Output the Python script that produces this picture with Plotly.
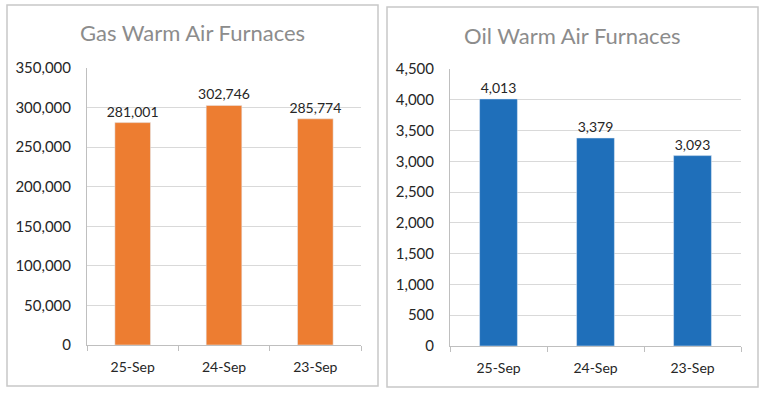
import plotly.graph_objects as go

categories = ["25-Sep", "24-Sep", "23-Sep"]
gas_values = [281001, 302746, 285774]
oil_values = [4013, 3379, 3093]
gas_title = "Gas Warm Air Furnaces"
oil_title = "Oil Warm Air Furnaces"

W, H = 765, 399
FONT = "Lato, Open Sans, sans-serif"
TXT = "#262626"

fig = go.Figure()

fig.add_trace(go.Bar(
    x=categories, y=gas_values, marker_color="#ED7D31",
    text=[f"{v:,}" for v in gas_values], textposition="outside", constraintext="none",
    textfont=dict(size=14, color=TXT, family=FONT), cliponaxis=False,
    xaxis="x", yaxis="y", width=0.39, hoverinfo="skip"))
fig.add_trace(go.Bar(
    x=categories, y=oil_values, marker_color="#1F6FBA",
    text=[f"{v:,}" for v in oil_values], textposition="outside", constraintext="none",
    textfont=dict(size=14, color=TXT, family=FONT), cliponaxis=False,
    xaxis="x2", yaxis="y2", width=0.39, hoverinfo="skip"))

def px_x(p):
    return p / W

def px_y(p):
    return 1 - p / H

xcommon = dict(type="category", showgrid=False, showline=True, linecolor="#BFBFBF",
               ticks="outside", tickson="boundaries", ticklen=5, tickcolor="#BFBFBF",
               tickfont=dict(size=14, color=TXT, family=FONT), ticklabelstandoff=9,
               fixedrange=True, automargin=False)
ycommon = dict(showgrid=True, gridcolor="#D9D9D9", showline=True, linecolor="#BFBFBF",
               zeroline=False, tickformat=",d", ticks="", automargin=False, fixedrange=True,
               tickfont=dict(size=15, color=TXT, family=FONT), ticklabelstandoff=12)

fig.update_layout(
    width=W, height=H, margin=dict(l=0, r=0, t=0, b=0, pad=0), autosize=False,
    paper_bgcolor="white", plot_bgcolor="white", showlegend=False,
    font=dict(family=FONT),
    xaxis=dict(domain=[px_x(87), px_x(361)], anchor="y", **xcommon),
    yaxis=dict(domain=[px_y(345), px_y(68)], anchor="x", range=[0, 350000],
               dtick=50000, **ycommon),
    xaxis2=dict(domain=[px_x(450), px_x(741)], anchor="y2", **xcommon),
    yaxis2=dict(domain=[px_y(346), px_y(69)], anchor="x2", range=[0, 4500],
                dtick=500, **ycommon),
    shapes=[
        dict(type="rect", xref="paper", yref="paper", x0=px_x(7), x1=px_x(378),
             y0=px_y(386), y1=px_y(5), line=dict(color="#C8C8C8", width=1.5)),
        dict(type="rect", xref="paper", yref="paper", x0=px_x(387), x1=px_x(758),
             y0=px_y(387), y1=px_y(7), line=dict(color="#C8C8C8", width=1.5)),
    ],
    annotations=[
        dict(text=gas_title, xref="paper", yref="paper", x=px_x(192), y=px_y(33),
             showarrow=False, xanchor="center", yanchor="middle",
             font=dict(size=22, color="#8C8C8C", family=FONT)),
        dict(text=oil_title, xref="paper", yref="paper", x=px_x(572), y=px_y(35),
             showarrow=False, xanchor="center", yanchor="middle",
             font=dict(size=22, color="#8C8C8C", family=FONT)),
    ],
)

fig.write_html("out.html", config={"responsive": False, "displayModeBar": False},
               post_script="document.body.style.margin='0';document.body.style.overflow='hidden';")
